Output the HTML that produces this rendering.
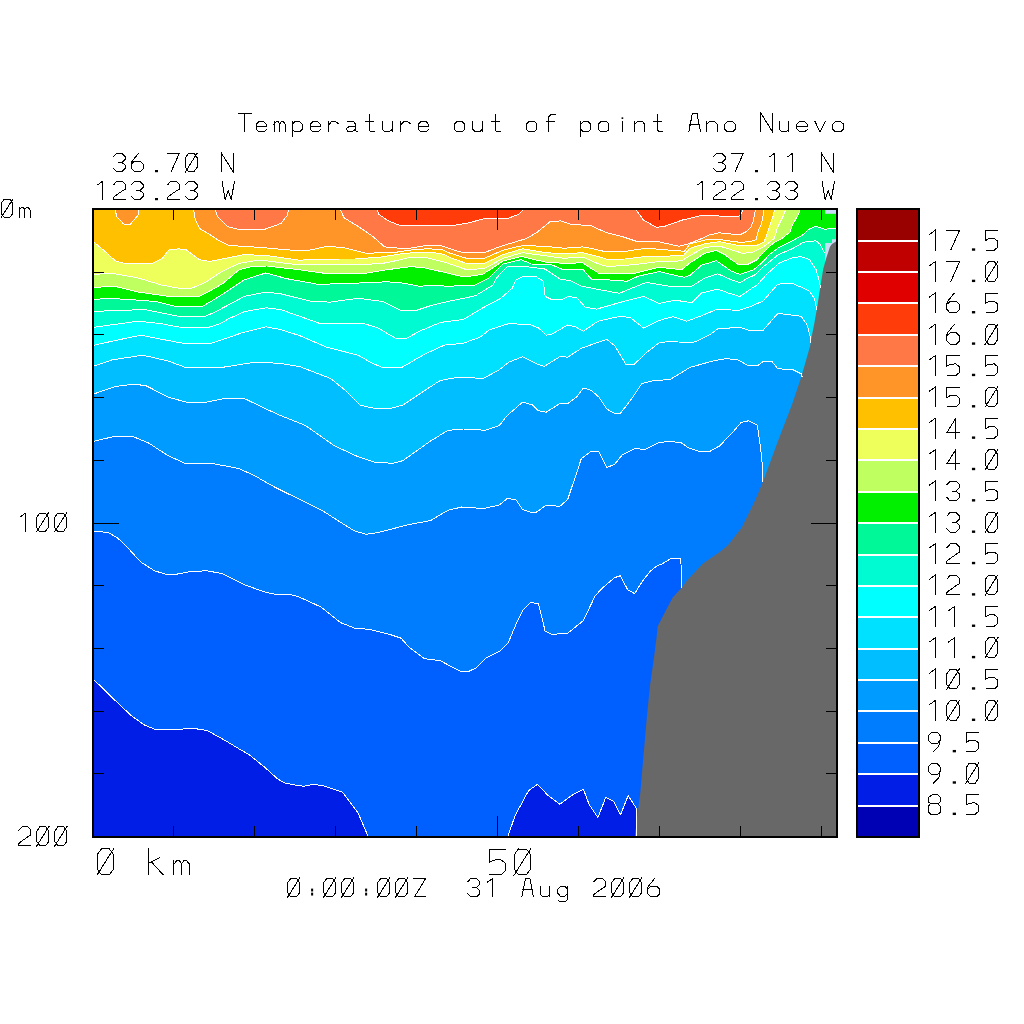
<!DOCTYPE html>
<html><head><meta charset="utf-8"><title>Temperature out of point Ano Nuevo</title>
<style>html,body{margin:0;padding:0;background:#fff;overflow:hidden;font-family:"Liberation Sans",sans-serif;}svg{display:block;}</style>
</head><body>
<svg width="1024" height="1024" viewBox="0 0 1024 1024">
<rect width="1024" height="1024" fill="#fff"/>
<rect x="93" y="209" width="743" height="627" fill="#001EE6"/>
<polygon points="93.0,209.0 836.0,209.0 836.0,836.0 636.0,836.0 637.0,816.0 636.0,807.8 628.2,795.5 620.4,815.0 613.6,801.4 605.7,797.5 597.9,817.6 589.1,804.3 583.3,789.1 571.6,795.5 559.8,804.3 548.1,795.5 537.4,784.4 528.6,790.6 514.9,816.0 508.1,836.0 367.9,836.0 358.1,813.1 342.5,792.2 323.0,785.7 313.2,784.4 303.4,786.3 291.7,784.4 285.3,783.2 277.5,778.9 265.8,768.2 250.2,755.5 226.7,741.4 207.2,730.5 191.6,728.1 181.8,729.1 154.5,729.1 144.7,725.2 131.0,715.4 113.4,698.8 101.7,687.1 93.0,679.3" fill="#0060FF"/>
<polygon points="93.0,209.0 836.0,209.0 836.0,587.9 681.5,587.9 681.0,564.0 680.5,558.6 670.8,558.6 662.0,563.9 656.1,566.4 650.3,571.3 642.5,581.0 637.6,588.8 634.6,593.7 627.8,589.8 622.9,581.0 620.4,575.7 614.5,577.7 600.9,589.4 595.0,596.2 583.3,620.6 567.7,633.3 552.0,634.3 545.2,631.4 538.4,603.4 530.5,602.7 522.7,610.5 515.9,624.5 508.1,643.1 499.3,651.5 485.6,658.1 476.8,667.5 469.5,671.0 459.7,671.0 440.2,660.7 424.5,658.7 408.9,647.0 401.1,638.2 389.4,634.3 369.8,629.4 354.2,628.0 340.5,622.6 321.0,607.0 299.5,597.2 290.0,594.3 275.5,594.3 265.8,592.3 246.3,585.5 222.8,573.8 207.2,570.8 191.6,571.4 175.9,574.3 166.2,574.3 154.5,570.8 140.8,562.0 129.1,549.3 117.3,537.6 107.6,532.3 93.0,531.4" fill="#007DFF"/>
<polygon points="93.0,209.0 836.0,209.0 836.0,481.8 763.0,481.8 761.8,457.4 757.4,425.2 748.6,420.8 741.3,422.3 733.8,431.0 726.6,438.4 720.1,445.6 710.3,451.1 698.6,451.1 688.8,448.0 681.0,442.7 669.3,441.3 658.6,442.7 643.8,449.9 636.0,447.9 622.3,454.8 614.5,464.5 606.7,467.5 598.9,451.8 591.1,451.3 581.3,458.7 575.5,476.3 571.6,487.8 567.7,499.5 559.8,506.4 546.2,505.0 536.4,512.2 530.5,512.2 522.7,509.7 515.9,499.5 507.1,498.6 499.3,505.0 484.6,508.3 480.0,508.3 461.6,507.0 448.0,510.3 430.4,520.6 408.9,524.5 377.7,532.7 365.9,534.3 354.2,530.8 338.6,521.0 323.0,511.0 305.4,502.0 290.0,494.7 275.5,487.5 261.9,480.0 256.0,476.3 238.4,468.4 213.0,463.6 185.7,463.6 168.1,455.7 148.6,443.0 133.0,436.6 113.4,436.6 93.0,441.5" fill="#009BFF"/>
<polygon points="93.0,209.0 836.0,209.0 836.0,376.9 802.1,376.9 801.3,373.9 792.5,369.5 777.9,368.8 772.0,361.5 763.2,361.5 757.4,365.9 748.6,365.9 738.3,360.0 726.6,358.6 713.4,360.8 690.0,367.4 670.0,379.6 653.6,380.5 641.9,383.5 632.1,398.1 620.4,413.4 614.5,413.4 606.7,408.9 598.9,397.1 591.1,390.3 583.3,388.0 577.4,396.2 567.7,403.6 559.8,403.6 546.2,412.2 538.4,410.8 532.5,405.0 522.7,402.0 507.1,415.7 499.3,425.5 485.6,430.3 463.6,429.0 448.0,430.3 430.4,441.1 403.0,460.6 393.3,463.2 375.7,462.6 358.1,456.7 334.7,446.0 305.4,425.5 280.0,415.3 265.8,408.9 244.3,398.5 226.7,398.1 207.2,402.0 185.7,402.0 168.1,397.1 146.6,386.0 134.9,384.1 115.4,386.4 93.0,394.2" fill="#00BEFF"/>
<polygon points="93.0,209.0 836.0,209.0 836.0,343.0 810.5,343.0 810.1,336.8 807.2,325.1 801.3,316.3 777.9,313.4 763.2,330.2 748.6,330.2 739.8,327.3 717.8,328.8 710.5,334.4 695.9,341.7 690.0,342.7 670.0,341.5 659.5,342.5 645.8,353.2 634.1,364.5 626.3,364.9 614.5,345.4 606.7,339.5 595.0,343.4 581.3,348.3 567.7,357.1 559.8,356.7 544.2,366.5 536.4,363.9 522.7,356.7 509.1,362.0 499.3,369.8 483.7,378.2 455.8,377.6 440.2,380.5 420.6,393.2 403.0,405.0 391.3,408.3 373.8,408.3 360.1,405.0 346.4,391.3 330.8,378.6 299.5,366.5 280.0,363.4 256.0,362.0 218.9,367.9 185.7,367.5 168.1,361.0 142.7,355.2 111.5,360.0 93.0,366.5" fill="#00E0FF"/>
<polygon points="93.0,209.0 836.0,209.0 836.0,310.0 817.0,310.0 814.4,298.6 809.5,291.3 802.7,287.9 792.5,283.4 777.9,284.1 763.2,300.9 751.5,306.1 738.3,310.5 717.8,309.0 701.7,315.6 686.8,321.2 672.8,316.7 658.9,320.5 643.6,328.1 630.9,318.0 620.8,316.1 597.9,321.2 583.3,331.3 575.5,326.8 567.7,324.9 552.0,334.1 546.2,335.2 538.4,327.8 530.5,324.9 509.1,323.5 489.5,329.8 480.0,337.2 461.6,343.8 446.0,344.4 424.5,354.2 401.1,367.9 383.5,367.9 371.8,363.0 358.1,355.2 326.9,347.3 299.5,335.6 280.0,329.4 265.8,326.8 242.3,332.7 211.1,343.4 183.8,343.4 168.1,340.5 140.8,335.2 115.4,340.5 93.0,345.4" fill="#00FFFF"/>
<polygon points="93.0,209.0 836.0,209.0 836.0,288.0 820.5,288.0 819.3,281.0 816.0,269.5 809.5,259.5 801.5,256.7 793.3,257.4 779.6,262.8 767.3,273.8 757.1,285.0 751.5,288.5 739.8,296.5 728.1,292.9 717.8,289.2 701.7,292.9 691.9,302.8 675.4,300.2 658.9,303.4 643.6,296.4 623.3,301.5 596.7,309.1 585.2,307.2 577.0,297.7 568.0,296.4 561.7,299.6 551.6,299.6 545.2,296.4 543.3,281.2 536.3,276.7 522.4,276.7 516.0,279.9 512.2,288.2 500.8,298.3 481.7,308.5 462.7,319.9 460.0,319.9 440.5,322.4 420.6,330.7 407.0,338.0 395.2,338.0 377.7,327.8 364.3,323.7 330.0,323.1 320.4,323.7 281.1,309.7 265.9,307.8 244.3,311.6 229.0,318.6 220.0,323.7 208.0,327.5 181.4,327.5 161.1,323.7 138.2,321.2 115.4,324.3 93.0,327.5" fill="#00FAD2"/>
<polygon points="93.0,209.0 836.0,209.0 836.0,253.3 824.8,253.3 820.4,244.5 816.0,240.9 810.0,241.2 803.6,242.3 791.3,249.2 778.3,254.6 763.9,266.3 755.7,274.5 746.8,278.6 740.0,282.7 731.0,279.7 717.8,273.8 704.6,278.2 691.9,286.2 669.0,286.2 646.2,282.4 619.5,293.2 608.1,291.3 581.4,286.2 570.0,280.5 560.4,279.3 545.2,269.1 526.2,266.6 507.1,266.6 497.0,277.4 493.2,285.0 475.4,295.8 450.0,301.0 431.6,305.3 416.3,310.4 401.1,310.4 383.3,301.5 357.9,298.3 330.0,302.1 311.6,301.5 281.1,293.9 265.9,292.0 244.3,296.4 227.8,305.3 213.0,313.0 205.5,316.1 177.6,316.1 161.1,312.9 145.9,309.7 115.4,310.4 93.0,311.6" fill="#00F898"/>
<polygon points="93.0,209.0 836.0,209.0 836.0,228.4 824.8,229.2 816.0,226.2 809.5,228.9 802.9,234.8 791.9,241.0 778.3,247.8 770.1,254.0 761.9,262.8 753.7,269.7 740.0,274.5 731.0,270.9 716.4,260.7 701.7,265.1 690.0,275.3 684.3,277.4 658.9,271.6 638.6,276.1 627.1,281.2 608.1,279.9 591.6,279.3 582.7,269.1 561.7,269.1 551.6,264.7 531.2,264.0 521.1,259.6 503.3,264.0 488.1,278.6 475.4,285.0 450.0,286.2 431.6,285.6 418.9,286.2 403.6,283.1 387.1,281.8 342.7,283.7 317.9,284.3 286.2,278.6 265.9,272.9 244.3,279.9 225.2,292.6 210.0,302.1 201.7,306.6 176.3,306.6 156.0,301.5 130.6,299.6 107.8,298.3 93.0,299.6" fill="#00F000"/>
<polygon points="93.0,209.0 800.6,209.0 798.1,215.0 792.6,224.6 789.9,232.1 782.4,238.2 774.2,242.3 763.9,251.9 756.4,260.1 746.8,264.9 739.1,265.0 731.3,259.7 725.2,254.8 716.4,250.4 704.6,253.3 690.0,262.9 681.7,269.7 658.9,267.2 633.5,273.6 599.2,273.6 582.7,262.8 564.3,263.4 545.2,262.1 521.1,256.4 503.3,260.9 483.0,274.2 466.5,276.7 460.0,276.1 444.3,272.3 423.9,267.8 411.2,266.6 387.1,269.7 363.0,273.6 326.8,273.6 298.9,269.7 266.5,266.0 251.9,266.6 239.2,269.7 222.7,283.7 206.8,292.6 197.9,297.0 168.7,296.4 138.2,292.0 114.1,286.2 93.0,287.5" fill="#C0FF60"/>
<polygon points="93.0,209.0 786.0,209.0 783.7,215.0 777.6,227.3 774.2,238.6 763.9,246.4 751.6,252.6 742.0,253.3 738.3,251.9 719.3,246.0 704.6,247.5 690.0,255.5 681.7,260.9 658.9,261.5 633.5,264.7 608.1,266.6 600.5,264.7 582.7,257.0 564.3,258.3 545.2,255.8 522.4,252.6 503.3,258.3 484.3,268.5 466.5,269.7 444.3,262.1 423.9,257.0 411.2,257.0 387.1,262.8 363.0,264.7 340.0,264.7 298.9,264.7 286.2,263.4 267.1,260.9 253.2,260.9 239.2,263.4 222.7,271.0 205.5,282.4 191.6,288.2 178.9,288.2 161.1,285.0 138.2,278.0 114.1,273.6 93.0,274.2" fill="#EEFF5C"/>
<polygon points="93.0,209.0 774.5,209.0 773.5,215.0 771.4,221.2 767.3,233.5 763.9,242.3 755.7,245.8 738.3,245.5 719.3,241.6 704.6,243.8 690.0,248.2 683.0,255.8 646.2,256.4 624.6,259.0 608.1,259.6 595.4,255.8 582.7,252.6 564.3,253.9 545.2,252.6 522.4,248.8 503.3,254.5 484.3,263.4 466.5,263.4 450.0,257.7 444.3,254.5 431.6,252.2 417.6,252.2 401.1,253.9 380.8,257.0 355.4,259.0 340.0,259.0 311.6,259.6 298.9,260.2 268.4,255.8 244.3,254.5 225.2,258.3 209.3,261.5 199.2,259.6 186.5,250.0 178.9,248.8 168.7,250.0 162.4,258.3 152.2,263.4 124.3,263.4 115.4,260.9 106.5,252.6 93.0,241.2" fill="#FFC000"/>
<polygon points="193.5,209.0 195.4,220.2 200.4,229.1 209.3,234.2 217.0,239.3 229.0,245.6 244.3,246.3 260.8,247.5 290.0,250.0 310.3,250.0 326.8,246.3 342.7,247.5 365.5,253.2 393.5,252.6 411.2,250.0 426.5,248.8 441.7,249.4 450.0,253.2 466.5,258.3 484.3,258.3 503.3,250.1 522.4,245.6 545.2,246.3 564.3,248.2 582.7,246.9 590.3,248.2 606.8,252.0 625.9,251.3 646.2,248.2 684.3,251.3 690.0,243.8 707.6,239.4 719.3,239.4 734.0,241.6 740.0,242.3 750.3,241.7 756.4,239.3 758.1,231.4 761.2,224.6 763.2,215.0 764.2,209.0" fill="#FF9428"/>
<polygon points="115.0,209.0 116.7,216.4 123.6,224.0 130.6,224.0 138.2,215.0 138.9,209.0" fill="#FF9428"/>
<polygon points="215.1,209.0 217.6,216.4 227.8,226.6 237.3,229.1 265.2,229.1 281.1,223.4 287.4,215.2 288.7,209.0" fill="#FF7846"/>
<polygon points="340.2,209.0 344.0,217.7 360.5,227.9 373.2,236.7 384.6,246.9 406.2,248.8 425.2,245.6 440.5,245.6 451.9,249.4 462.7,252.6 484.3,252.6 500.8,246.3 526.2,238.6 536.3,232.9 550.3,221.5 560.4,220.9 571.9,224.7 590.3,225.3 605.5,232.3 620.8,236.1 636.0,241.2 658.9,241.8 679.2,246.3 686.8,244.4 700.0,239.3 709.0,235.0 719.3,232.8 734.0,234.3 740.0,234.8 746.8,231.4 750.9,227.3 753.0,221.8 754.4,215.0 755.5,209.0" fill="#FF7846"/>
<polygon points="377.6,209.0 378.2,213.9 388.4,220.9 401.1,225.9 441.7,225.9 450.0,226.0 469.0,222.8 485.5,218.3 505.9,219.0 518.6,214.5 523.6,209.0" fill="#FF3C0A"/>
<polygon points="635.4,209.0 643.6,220.2 656.3,227.2 663.9,226.6 681.7,220.2 700.0,215.8 704.6,215.5 738.3,216.7 741.3,213.8 743.5,209.0" fill="#FF3C0A"/>
<polygon points="825.2,243.1 832.0,243.1 832.0,239.2 836.0,239.2 836.0,262.0 825.2,262.0" fill="#C8DCF8"/>
<rect x="825.2" y="209" width="10.8" height="4.8" fill="#C8DCF8"/>
<polygon points="836.0,241.5 832.0,243.9 830.0,246.8 826.1,258.6 823.2,269.3 820.3,286.9 817.3,306.4 814.4,323.0 811.0,340.0 810.1,346.1 801.3,376.9 792.5,403.2 777.9,441.3 763.0,481.8 755.2,500.3 741.6,527.7 727.9,545.2 720.0,551.7 703.0,563.4 687.4,580.0 681.5,587.9 672.7,597.6 663.9,614.2 657.6,626.5 656.6,637.2 653.3,663.0 650.1,684.5 646.9,716.8 643.7,753.3 640.4,792.0 637.4,815.7 635.0,836.0 836.0,836.0" fill="#686868"/>
<g fill="none" stroke="#fff" stroke-width="1" stroke-linejoin="round" shape-rendering="crispEdges"><polyline points="93.0,679.3 101.7,687.1 113.4,698.8 131.0,715.4 144.7,725.2 154.5,729.1 181.8,729.1 191.6,728.1 207.2,730.5 226.7,741.4 250.2,755.5 265.8,768.2 277.5,778.9 285.3,783.2 291.7,784.4 303.4,786.3 313.2,784.4 323.0,785.7 342.5,792.2 358.1,813.1 367.9,836.0"/><polyline points="508.1,836.0 514.9,816.0 528.6,790.6 537.4,784.4 548.1,795.5 559.8,804.3 571.6,795.5 583.3,789.1 589.1,804.3 597.9,817.6 605.7,797.5 613.6,801.4 620.4,815.0 628.2,795.5 636.0,807.8 637.0,816.0 636.0,836.0"/><polyline points="93.0,531.4 107.6,532.3 117.3,537.6 129.1,549.3 140.8,562.0 154.5,570.8 166.2,574.3 175.9,574.3 191.6,571.4 207.2,570.8 222.8,573.8 246.3,585.5 265.8,592.3 275.5,594.3 290.0,594.3 299.5,597.2 321.0,607.0 340.5,622.6 354.2,628.0 369.8,629.4 389.4,634.3 401.1,638.2 408.9,647.0 424.5,658.7 440.2,660.7 459.7,671.0 469.5,671.0 476.8,667.5 485.6,658.1 499.3,651.5 508.1,643.1 515.9,624.5 522.7,610.5 530.5,602.7 538.4,603.4 545.2,631.4 552.0,634.3 567.7,633.3 583.3,620.6 595.0,596.2 600.9,589.4 614.5,577.7 620.4,575.7 622.9,581.0 627.8,589.8 634.6,593.7 637.6,588.8 642.5,581.0 650.3,571.3 656.1,566.4 662.0,563.9 670.8,558.6 680.5,558.6 681.0,564.0 681.5,587.9"/><polyline points="93.0,441.5 113.4,436.6 133.0,436.6 148.6,443.0 168.1,455.7 185.7,463.6 213.0,463.6 238.4,468.4 256.0,476.3 261.9,480.0 275.5,487.5 290.0,494.7 305.4,502.0 323.0,511.0 338.6,521.0 354.2,530.8 365.9,534.3 377.7,532.7 408.9,524.5 430.4,520.6 448.0,510.3 461.6,507.0 480.0,508.3 484.6,508.3 499.3,505.0 507.1,498.6 515.9,499.5 522.7,509.7 530.5,512.2 536.4,512.2 546.2,505.0 559.8,506.4 567.7,499.5 571.6,487.8 575.5,476.3 581.3,458.7 591.1,451.3 598.9,451.8 606.7,467.5 614.5,464.5 622.3,454.8 636.0,447.9 643.8,449.9 658.6,442.7 669.3,441.3 681.0,442.7 688.8,448.0 698.6,451.1 710.3,451.1 720.1,445.6 726.6,438.4 733.8,431.0 741.3,422.3 748.6,420.8 757.4,425.2 761.8,457.4 763.0,481.8"/><polyline points="93.0,394.2 115.4,386.4 134.9,384.1 146.6,386.0 168.1,397.1 185.7,402.0 207.2,402.0 226.7,398.1 244.3,398.5 265.8,408.9 280.0,415.3 305.4,425.5 334.7,446.0 358.1,456.7 375.7,462.6 393.3,463.2 403.0,460.6 430.4,441.1 448.0,430.3 463.6,429.0 485.6,430.3 499.3,425.5 507.1,415.7 522.7,402.0 532.5,405.0 538.4,410.8 546.2,412.2 559.8,403.6 567.7,403.6 577.4,396.2 583.3,388.0 591.1,390.3 598.9,397.1 606.7,408.9 614.5,413.4 620.4,413.4 632.1,398.1 641.9,383.5 653.6,380.5 670.0,379.6 690.0,367.4 713.4,360.8 726.6,358.6 738.3,360.0 748.6,365.9 757.4,365.9 763.2,361.5 772.0,361.5 777.9,368.8 792.5,369.5 801.3,373.9 802.1,376.9"/><polyline points="93.0,366.5 111.5,360.0 142.7,355.2 168.1,361.0 185.7,367.5 218.9,367.9 256.0,362.0 280.0,363.4 299.5,366.5 330.8,378.6 346.4,391.3 360.1,405.0 373.8,408.3 391.3,408.3 403.0,405.0 420.6,393.2 440.2,380.5 455.8,377.6 483.7,378.2 499.3,369.8 509.1,362.0 522.7,356.7 536.4,363.9 544.2,366.5 559.8,356.7 567.7,357.1 581.3,348.3 595.0,343.4 606.7,339.5 614.5,345.4 626.3,364.9 634.1,364.5 645.8,353.2 659.5,342.5 670.0,341.5 690.0,342.7 695.9,341.7 710.5,334.4 717.8,328.8 739.8,327.3 748.6,330.2 763.2,330.2 777.9,313.4 801.3,316.3 807.2,325.1 810.1,336.8 810.5,343.0"/><polyline points="93.0,345.4 115.4,340.5 140.8,335.2 168.1,340.5 183.8,343.4 211.1,343.4 242.3,332.7 265.8,326.8 280.0,329.4 299.5,335.6 326.9,347.3 358.1,355.2 371.8,363.0 383.5,367.9 401.1,367.9 424.5,354.2 446.0,344.4 461.6,343.8 480.0,337.2 489.5,329.8 509.1,323.5 530.5,324.9 538.4,327.8 546.2,335.2 552.0,334.1 567.7,324.9 575.5,326.8 583.3,331.3 597.9,321.2 620.8,316.1 630.9,318.0 643.6,328.1 658.9,320.5 672.8,316.7 686.8,321.2 701.7,315.6 717.8,309.0 738.3,310.5 751.5,306.1 763.2,300.9 777.9,284.1 792.5,283.4 802.7,287.9 809.5,291.3 814.4,298.6 817.0,310.0"/><polyline points="93.0,327.5 115.4,324.3 138.2,321.2 161.1,323.7 181.4,327.5 208.0,327.5 220.0,323.7 229.0,318.6 244.3,311.6 265.9,307.8 281.1,309.7 320.4,323.7 330.0,323.1 364.3,323.7 377.7,327.8 395.2,338.0 407.0,338.0 420.6,330.7 440.5,322.4 460.0,319.9 462.7,319.9 481.7,308.5 500.8,298.3 512.2,288.2 516.0,279.9 522.4,276.7 536.3,276.7 543.3,281.2 545.2,296.4 551.6,299.6 561.7,299.6 568.0,296.4 577.0,297.7 585.2,307.2 596.7,309.1 623.3,301.5 643.6,296.4 658.9,303.4 675.4,300.2 691.9,302.8 701.7,292.9 717.8,289.2 728.1,292.9 739.8,296.5 751.5,288.5 757.1,285.0 767.3,273.8 779.6,262.8 793.3,257.4 801.5,256.7 809.5,259.5 816.0,269.5 819.3,281.0 820.5,288.0"/><polyline points="93.0,311.6 115.4,310.4 145.9,309.7 161.1,312.9 177.6,316.1 205.5,316.1 213.0,313.0 227.8,305.3 244.3,296.4 265.9,292.0 281.1,293.9 311.6,301.5 330.0,302.1 357.9,298.3 383.3,301.5 401.1,310.4 416.3,310.4 431.6,305.3 450.0,301.0 475.4,295.8 493.2,285.0 497.0,277.4 507.1,266.6 526.2,266.6 545.2,269.1 560.4,279.3 570.0,280.5 581.4,286.2 608.1,291.3 619.5,293.2 646.2,282.4 669.0,286.2 691.9,286.2 704.6,278.2 717.8,273.8 731.0,279.7 740.0,282.7 746.8,278.6 755.7,274.5 763.9,266.3 778.3,254.6 791.3,249.2 803.6,242.3 810.0,241.2 816.0,240.9 820.4,244.5 824.8,253.3"/><polyline points="93.0,299.6 107.8,298.3 130.6,299.6 156.0,301.5 176.3,306.6 201.7,306.6 210.0,302.1 225.2,292.6 244.3,279.9 265.9,272.9 286.2,278.6 317.9,284.3 342.7,283.7 387.1,281.8 403.6,283.1 418.9,286.2 431.6,285.6 450.0,286.2 475.4,285.0 488.1,278.6 503.3,264.0 521.1,259.6 531.2,264.0 551.6,264.7 561.7,269.1 582.7,269.1 591.6,279.3 608.1,279.9 627.1,281.2 638.6,276.1 658.9,271.6 684.3,277.4 690.0,275.3 701.7,265.1 716.4,260.7 731.0,270.9 740.0,274.5 753.7,269.7 761.9,262.8 770.1,254.0 778.3,247.8 791.9,241.0 802.9,234.8 809.5,228.9 816.0,226.2 824.8,229.2 836.0,228.4"/><polyline points="93.0,287.5 114.1,286.2 138.2,292.0 168.7,296.4 197.9,297.0 206.8,292.6 222.7,283.7 239.2,269.7 251.9,266.6 266.5,266.0 298.9,269.7 326.8,273.6 363.0,273.6 387.1,269.7 411.2,266.6 423.9,267.8 444.3,272.3 460.0,276.1 466.5,276.7 483.0,274.2 503.3,260.9 521.1,256.4 545.2,262.1 564.3,263.4 582.7,262.8 599.2,273.6 633.5,273.6 658.9,267.2 681.7,269.7 690.0,262.9 704.6,253.3 716.4,250.4 725.2,254.8 731.3,259.7 739.1,265.0 746.8,264.9 756.4,260.1 763.9,251.9 774.2,242.3 782.4,238.2 789.9,232.1 792.6,224.6 798.1,215.0 800.6,209.0"/><polyline points="93.0,274.2 114.1,273.6 138.2,278.0 161.1,285.0 178.9,288.2 191.6,288.2 205.5,282.4 222.7,271.0 239.2,263.4 253.2,260.9 267.1,260.9 286.2,263.4 298.9,264.7 340.0,264.7 363.0,264.7 387.1,262.8 411.2,257.0 423.9,257.0 444.3,262.1 466.5,269.7 484.3,268.5 503.3,258.3 522.4,252.6 545.2,255.8 564.3,258.3 582.7,257.0 600.5,264.7 608.1,266.6 633.5,264.7 658.9,261.5 681.7,260.9 690.0,255.5 704.6,247.5 719.3,246.0 738.3,251.9 742.0,253.3 751.6,252.6 763.9,246.4 774.2,238.6 777.6,227.3 783.7,215.0 786.0,209.0"/><polyline points="93.0,241.2 106.5,252.6 115.4,260.9 124.3,263.4 152.2,263.4 162.4,258.3 168.7,250.0 178.9,248.8 186.5,250.0 199.2,259.6 209.3,261.5 225.2,258.3 244.3,254.5 268.4,255.8 298.9,260.2 311.6,259.6 340.0,259.0 355.4,259.0 380.8,257.0 401.1,253.9 417.6,252.2 431.6,252.2 444.3,254.5 450.0,257.7 466.5,263.4 484.3,263.4 503.3,254.5 522.4,248.8 545.2,252.6 564.3,253.9 582.7,252.6 595.4,255.8 608.1,259.6 624.6,259.0 646.2,256.4 683.0,255.8 690.0,248.2 704.6,243.8 719.3,241.6 738.3,245.5 755.7,245.8 763.9,242.3 767.3,233.5 771.4,221.2 773.5,215.0 774.5,209.0"/><polyline points="193.5,209.0 195.4,220.2 200.4,229.1 209.3,234.2 217.0,239.3 229.0,245.6 244.3,246.3 260.8,247.5 290.0,250.0 310.3,250.0 326.8,246.3 342.7,247.5 365.5,253.2 393.5,252.6 411.2,250.0 426.5,248.8 441.7,249.4 450.0,253.2 466.5,258.3 484.3,258.3 503.3,250.1 522.4,245.6 545.2,246.3 564.3,248.2 582.7,246.9 590.3,248.2 606.8,252.0 625.9,251.3 646.2,248.2 684.3,251.3 690.0,243.8 707.6,239.4 719.3,239.4 734.0,241.6 740.0,242.3 750.3,241.7 756.4,239.3 758.1,231.4 761.2,224.6 763.2,215.0 764.2,209.0"/><polyline points="115.0,209.0 116.7,216.4 123.6,224.0 130.6,224.0 138.2,215.0 138.9,209.0"/><polyline points="215.1,209.0 217.6,216.4 227.8,226.6 237.3,229.1 265.2,229.1 281.1,223.4 287.4,215.2 288.7,209.0"/><polyline points="340.2,209.0 344.0,217.7 360.5,227.9 373.2,236.7 384.6,246.9 406.2,248.8 425.2,245.6 440.5,245.6 451.9,249.4 462.7,252.6 484.3,252.6 500.8,246.3 526.2,238.6 536.3,232.9 550.3,221.5 560.4,220.9 571.9,224.7 590.3,225.3 605.5,232.3 620.8,236.1 636.0,241.2 658.9,241.8 679.2,246.3 686.8,244.4 700.0,239.3 709.0,235.0 719.3,232.8 734.0,234.3 740.0,234.8 746.8,231.4 750.9,227.3 753.0,221.8 754.4,215.0 755.5,209.0"/><polyline points="377.6,209.0 378.2,213.9 388.4,220.9 401.1,225.9 441.7,225.9 450.0,226.0 469.0,222.8 485.5,218.3 505.9,219.0 518.6,214.5 523.6,209.0"/><polyline points="635.4,209.0 643.6,220.2 656.3,227.2 663.9,226.6 681.7,220.2 700.0,215.8 704.6,215.5 738.3,216.7 741.3,213.8 743.5,209.0"/></g>
<path d="M173.5 210 V220.0 M173.5 836 V826.0 M254.5 210 V220.0 M254.5 836 V826.0 M335.5 210 V220.0 M335.5 836 V826.0 M416.5 210 V220.0 M416.5 836 V826.0 M497.5 210 V230.0 M497.5 836 V816.0 M578.5 210 V220.0 M578.5 836 V826.0 M659.5 210 V220.0 M659.5 836 V826.0 M740.5 210 V220.0 M740.5 836 V826.0 M821.5 210 V220.0 M821.5 836 V826.0 M94 272.5 H104.0 M836 272.5 H826.0 M94 334.5 H104.0 M836 334.5 H826.0 M94 397.5 H104.0 M836 397.5 H826.0 M94 460.5 H104.0 M836 460.5 H826.0 M94 523.5 H119.0 M836 523.5 H811.0 M94 585.5 H104.0 M836 585.5 H826.0 M94 648.5 H104.0 M836 648.5 H826.0 M94 711.5 H104.0 M836 711.5 H826.0 M94 773.5 H104.0 M836 773.5 H826.0" stroke="#000" stroke-width="1" fill="none"/>
<rect x="93" y="209" width="744" height="628" fill="none" stroke="#000" stroke-width="2"/>
<rect x="857" y="804.65" width="62" height="31.85" fill="#0000B4"/>
<rect x="857" y="773.30" width="62" height="31.85" fill="#001EE6"/>
<rect x="857" y="741.95" width="62" height="31.85" fill="#0060FF"/>
<rect x="857" y="710.60" width="62" height="31.85" fill="#007DFF"/>
<rect x="857" y="679.25" width="62" height="31.85" fill="#009BFF"/>
<rect x="857" y="647.90" width="62" height="31.85" fill="#00BEFF"/>
<rect x="857" y="616.55" width="62" height="31.85" fill="#00E0FF"/>
<rect x="857" y="585.20" width="62" height="31.85" fill="#00FFFF"/>
<rect x="857" y="553.85" width="62" height="31.85" fill="#00FAD2"/>
<rect x="857" y="522.50" width="62" height="31.85" fill="#00F898"/>
<rect x="857" y="491.15" width="62" height="31.85" fill="#00F000"/>
<rect x="857" y="459.80" width="62" height="31.85" fill="#C0FF60"/>
<rect x="857" y="428.45" width="62" height="31.85" fill="#EEFF5C"/>
<rect x="857" y="397.10" width="62" height="31.85" fill="#FFC000"/>
<rect x="857" y="365.75" width="62" height="31.85" fill="#FF9428"/>
<rect x="857" y="334.40" width="62" height="31.85" fill="#FF7846"/>
<rect x="857" y="303.05" width="62" height="31.85" fill="#FF3C0A"/>
<rect x="857" y="271.70" width="62" height="31.85" fill="#E00000"/>
<rect x="857" y="240.35" width="62" height="31.85" fill="#C00000"/>
<rect x="857" y="209.00" width="62" height="31.85" fill="#990000"/>
<rect x="858" y="240" width="60" height="2" fill="#fff"/>
<rect x="858" y="271" width="60" height="2" fill="#fff"/>
<rect x="858" y="302" width="60" height="2" fill="#fff"/>
<rect x="858" y="334" width="60" height="2" fill="#fff"/>
<rect x="858" y="365" width="60" height="2" fill="#fff"/>
<rect x="858" y="397" width="60" height="2" fill="#fff"/>
<rect x="858" y="428" width="60" height="2" fill="#fff"/>
<rect x="858" y="459" width="60" height="2" fill="#fff"/>
<rect x="858" y="491" width="60" height="2" fill="#fff"/>
<rect x="858" y="522" width="60" height="2" fill="#fff"/>
<rect x="858" y="554" width="60" height="2" fill="#fff"/>
<rect x="858" y="585" width="60" height="2" fill="#fff"/>
<rect x="858" y="616" width="60" height="2" fill="#fff"/>
<rect x="858" y="648" width="60" height="2" fill="#fff"/>
<rect x="858" y="679" width="60" height="2" fill="#fff"/>
<rect x="858" y="710" width="60" height="2" fill="#fff"/>
<rect x="858" y="742" width="60" height="2" fill="#fff"/>
<rect x="858" y="773" width="60" height="2" fill="#fff"/>
<rect x="858" y="805" width="60" height="2" fill="#fff"/>
<rect x="857" y="209" width="62" height="628" fill="none" stroke="#000" stroke-width="2"/>
<g fill="#000" stroke="none"><rect x="621.57" y="117.32" width="1.65" height="1.65"/><rect x="155.00" y="170.00" width="3.00" height="2.20"/><rect x="155.00" y="198.00" width="3.00" height="2.20"/><rect x="755.00" y="170.00" width="3.00" height="2.20"/><rect x="755.00" y="198.00" width="3.00" height="2.20"/><rect x="311.10" y="888.60" width="2.04" height="2.86"/><rect x="311.10" y="892.68" width="2.04" height="2.86"/><rect x="365.10" y="888.60" width="2.04" height="2.86"/><rect x="365.10" y="892.68" width="2.04" height="2.86"/><rect x="952.73" y="812.65" width="3.24" height="2.38"/><rect x="952.73" y="781.30" width="3.24" height="2.38"/><rect x="952.73" y="749.95" width="3.24" height="2.38"/><rect x="971.93" y="718.60" width="3.24" height="2.38"/><rect x="971.93" y="687.25" width="3.24" height="2.38"/><rect x="971.93" y="655.90" width="3.24" height="2.38"/><rect x="971.93" y="624.55" width="3.24" height="2.38"/><rect x="971.93" y="593.20" width="3.24" height="2.38"/><rect x="971.93" y="561.85" width="3.24" height="2.38"/><rect x="971.93" y="530.50" width="3.24" height="2.38"/><rect x="971.93" y="499.15" width="3.24" height="2.38"/><rect x="971.93" y="467.80" width="3.24" height="2.38"/><rect x="971.93" y="436.45" width="3.24" height="2.38"/><rect x="971.93" y="405.10" width="3.24" height="2.38"/><rect x="971.93" y="373.75" width="3.24" height="2.38"/><rect x="971.93" y="342.40" width="3.24" height="2.38"/><rect x="971.93" y="311.05" width="3.24" height="2.38"/><rect x="971.93" y="279.70" width="3.24" height="2.38"/><rect x="971.93" y="248.35" width="3.24" height="2.38"/></g>
<g fill="none" stroke="#000" stroke-width="1" stroke-linecap="square" stroke-linejoin="miter" shape-rendering="crispEdges"><path d="M238.00 113.20 L251.39 113.20"/><path d="M244.59 113.20 L244.59 131.95"/><path d="M256.03 126.69 L266.36 126.69 L266.36 124.36 L263.61 121.44 L258.87 121.44 L256.03 124.36 L256.03 129.03 L258.87 131.95 L263.61 131.95 L266.36 129.71"/><path d="M274.06 121.44 L274.06 131.95"/><path d="M274.06 124.36 L276.43 121.44 L277.97 121.44 L279.78 123.87 L279.78 131.95"/><path d="M279.78 123.87 L281.58 121.44 L283.12 121.44 L285.49 124.36 L285.49 131.95"/><path d="M292.09 121.44 L292.09 136.62"/><path d="M292.09 124.36 L294.93 121.44 L299.67 121.44 L302.42 124.36 L302.42 129.03 L299.67 131.95 L294.93 131.95 L292.09 129.03"/><path d="M310.12 126.69 L320.45 126.69 L320.45 124.36 L317.70 121.44 L312.96 121.44 L310.12 124.36 L310.12 129.03 L312.96 131.95 L317.70 131.95 L320.45 129.71"/><path d="M328.34 121.44 L328.34 131.95"/><path d="M328.34 125.53 L331.28 121.93 L334.78 121.44 L338.19 123.48"/><path d="M347.66 121.63 L353.41 121.44 L355.36 123.97 L355.82 130.58 L357.30 131.95"/><path d="M355.36 126.50 L349.05 126.50 L346.46 128.54 L347.66 131.56 L351.46 131.95 L355.36 129.51"/><path d="M369.51 114.14 L369.51 130.58 L370.80 131.95 L374.51 131.95"/><path d="M365.45 121.93 L373.48 121.93"/><path d="M382.71 121.44 L382.71 129.51 L385.18 131.95 L389.16 131.95 L392.57 129.03"/><path d="M392.28 121.44 L392.28 131.95"/><path d="M400.46 121.44 L400.46 131.95"/><path d="M400.46 125.53 L403.40 121.93 L406.90 121.44 L410.31 123.48"/><path d="M418.30 126.69 L428.63 126.69 L428.63 124.36 L425.88 121.44 L421.14 121.44 L418.30 124.36 L418.30 129.03 L421.14 131.95 L425.88 131.95 L428.63 129.71"/><path d="M457.01 121.44 L462.04 121.44 L464.69 123.97 L464.69 129.42 L462.04 131.95 L457.01 131.95 L454.36 129.42 L454.36 123.97 L457.01 121.44"/><path d="M472.86 121.44 L472.86 129.51 L475.33 131.95 L479.31 131.95 L482.72 129.03"/><path d="M482.43 121.44 L482.43 131.95"/><path d="M495.72 114.14 L495.72 130.58 L497.01 131.95 L500.72 131.95"/><path d="M491.66 121.93 L499.69 121.93"/><path d="M529.13 121.44 L534.16 121.44 L536.81 123.97 L536.81 129.42 L534.16 131.95 L529.13 131.95 L526.48 129.42 L526.48 123.97 L529.13 121.44"/><path d="M548.84 131.95 L548.84 116.67 L551.00 114.24 L555.22 114.24"/><path d="M546.67 121.25 L554.71 121.25"/><path d="M580.57 121.44 L580.57 136.62"/><path d="M580.57 124.36 L583.41 121.44 L588.15 121.44 L590.90 124.36 L590.90 129.03 L588.15 131.95 L583.41 131.95 L580.57 129.03"/><path d="M601.25 121.44 L606.28 121.44 L608.93 123.97 L608.93 129.42 L606.28 131.95 L601.25 131.95 L598.60 129.42 L598.60 123.97 L601.25 121.44"/><path d="M622.29 121.44 L622.29 131.95"/><path d="M634.66 121.44 L634.66 131.95"/><path d="M634.66 124.36 L637.50 121.44 L642.24 121.44 L644.99 124.36 L644.99 131.95"/><path d="M657.99 114.14 L657.99 130.58 L659.28 131.95 L662.99 131.95"/><path d="M653.93 121.93 L661.96 121.93"/><path d="M688.75 131.95 L692.46 113.20 L696.99 113.20 L700.49 131.95"/><path d="M689.78 124.43 L699.46 124.43"/><path d="M706.78 121.44 L706.78 131.95"/><path d="M706.78 124.36 L709.62 121.44 L714.36 121.44 L717.11 124.36 L717.11 131.95"/><path d="M727.46 121.44 L732.49 121.44 L735.14 123.97 L735.14 129.42 L732.49 131.95 L727.46 131.95 L724.81 129.42 L724.81 123.97 L727.46 121.44"/><path d="M760.87 131.95 L760.87 113.20 L772.61 131.95 L772.61 113.20"/><path d="M779.37 121.44 L779.37 129.51 L781.84 131.95 L785.82 131.95 L789.23 129.03"/><path d="M788.94 121.44 L788.94 131.95"/><path d="M796.93 126.69 L807.26 126.69 L807.26 124.36 L804.51 121.44 L799.77 121.44 L796.93 124.36 L796.93 129.03 L799.77 131.95 L804.51 131.95 L807.26 129.71"/><path d="M814.96 121.44 L820.12 131.95 L825.29 121.44"/><path d="M835.64 121.44 L840.67 121.44 L843.32 123.97 L843.32 129.42 L840.67 131.95 L835.64 131.95 L832.99 129.42 L832.99 123.97 L835.64 121.44"/><path d="M113.60 156.60 L116.50 153.40 L122.10 153.40 L125.00 156.30 L125.00 159.50 L122.10 162.50 L118.60 162.50"/><path d="M122.10 162.50 L125.00 165.10 L125.00 168.60 L122.10 171.60 L116.50 171.60 L113.60 168.40"/><path d="M138.40 153.40 L132.10 161.20 L131.60 162.70 L131.60 168.60 L134.50 171.60 L140.40 171.60 L143.30 168.60 L143.30 164.10 L140.40 161.20 L134.50 161.20 L131.60 163.70"/><path d="M167.60 153.40 L179.30 153.40 L171.20 171.60"/><path d="M188.50 153.40 L194.10 153.40 L197.00 157.40 L197.00 167.60 L194.10 171.60 L188.50 171.60 L185.60 167.60 L185.60 157.40 L188.50 153.40"/><path d="M185.40 171.90 L197.20 153.10"/><path d="M221.60 171.60 L221.60 153.40 L233.00 171.60 L233.00 153.40"/><path d="M97.00 185.20 L102.40 181.40 L102.40 199.60"/><path d="M113.60 184.80 L116.80 181.40 L122.30 181.40 L125.20 184.30 L125.20 189.20 L122.60 190.70 L114.60 196.40 L113.60 197.60 L113.60 199.60 L125.20 199.60"/><path d="M131.60 184.60 L134.50 181.40 L140.10 181.40 L143.00 184.30 L143.00 187.50 L140.10 190.50 L136.60 190.50"/><path d="M140.10 190.50 L143.00 193.10 L143.00 196.60 L140.10 199.60 L134.50 199.60 L131.60 196.40"/><path d="M167.60 184.80 L170.80 181.40 L176.30 181.40 L179.20 184.30 L179.20 189.20 L176.60 190.70 L168.60 196.40 L167.60 197.60 L167.60 199.60 L179.20 199.60"/><path d="M185.60 184.60 L188.50 181.40 L194.10 181.40 L197.00 184.30 L197.00 187.50 L194.10 190.50 L190.60 190.50"/><path d="M194.10 190.50 L197.00 193.10 L197.00 196.60 L194.10 199.60 L188.50 199.60 L185.60 196.40"/><path d="M222.00 181.40 L225.10 199.60 L228.20 190.20 L231.30 199.60 L234.40 181.40"/><path d="M713.60 156.60 L716.50 153.40 L722.10 153.40 L725.00 156.30 L725.00 159.50 L722.10 162.50 L718.60 162.50"/><path d="M722.10 162.50 L725.00 165.10 L725.00 168.60 L722.10 171.60 L716.50 171.60 L713.60 168.40"/><path d="M731.60 153.40 L743.30 153.40 L735.20 171.60"/><path d="M769.00 157.20 L774.40 153.40 L774.40 171.60"/><path d="M787.00 157.20 L792.40 153.40 L792.40 171.60"/><path d="M821.60 171.60 L821.60 153.40 L833.00 171.60 L833.00 153.40"/><path d="M697.00 185.20 L702.40 181.40 L702.40 199.60"/><path d="M713.60 184.80 L716.80 181.40 L722.30 181.40 L725.20 184.30 L725.20 189.20 L722.60 190.70 L714.60 196.40 L713.60 197.60 L713.60 199.60 L725.20 199.60"/><path d="M731.60 184.80 L734.80 181.40 L740.30 181.40 L743.20 184.30 L743.20 189.20 L740.60 190.70 L732.60 196.40 L731.60 197.60 L731.60 199.60 L743.20 199.60"/><path d="M767.60 184.60 L770.50 181.40 L776.10 181.40 L779.00 184.30 L779.00 187.50 L776.10 190.50 L772.60 190.50"/><path d="M776.10 190.50 L779.00 193.10 L779.00 196.60 L776.10 199.60 L770.50 199.60 L767.60 196.40"/><path d="M785.60 184.60 L788.50 181.40 L794.10 181.40 L797.00 184.30 L797.00 187.50 L794.10 190.50 L790.60 190.50"/><path d="M794.10 190.50 L797.00 193.10 L797.00 196.60 L794.10 199.60 L788.50 199.60 L785.60 196.40"/><path d="M822.00 181.40 L825.10 199.60 L828.20 190.20 L831.30 199.60 L834.40 181.40"/><path d="M4.20 199.30 L9.80 199.30 L12.70 203.30 L12.70 213.50 L9.80 217.50 L4.20 217.50 L1.30 213.50 L1.30 203.30 L4.20 199.30"/><path d="M1.10 217.80 L12.90 199.00"/><path d="M19.20 207.30 L19.20 217.50"/><path d="M19.20 210.13 L21.50 207.30 L23.00 207.30 L24.75 209.66 L24.75 217.50"/><path d="M24.75 209.66 L26.50 207.30 L28.00 207.30 L30.30 210.13 L30.30 217.50"/><path d="M20.01 517.04 L25.47 513.20 L25.47 531.58"/><path d="M39.63 513.20 L45.29 513.20 L48.21 517.24 L48.21 527.54 L45.29 531.58 L39.63 531.58 L36.70 527.54 L36.70 517.24 L39.63 513.20"/><path d="M36.50 531.88 L48.42 512.90"/><path d="M57.73 513.20 L63.39 513.20 L66.31 517.24 L66.31 527.54 L63.39 531.58 L57.73 531.58 L54.80 527.54 L54.80 517.24 L57.73 513.20"/><path d="M54.60 531.88 L66.52 512.90"/><path d="M18.90 830.34 L22.23 826.80 L27.95 826.80 L30.96 829.82 L30.96 834.91 L28.26 836.47 L19.94 842.40 L18.90 843.65 L18.90 845.73 L30.96 845.73"/><path d="M39.92 826.80 L45.74 826.80 L48.76 830.96 L48.76 841.57 L45.74 845.73 L39.92 845.73 L36.90 841.57 L36.90 830.96 L39.92 826.80"/><path d="M36.69 846.04 L48.96 826.49"/><path d="M57.92 826.80 L63.74 826.80 L66.76 830.96 L66.76 841.57 L63.74 845.73 L57.92 845.73 L54.90 841.57 L54.90 830.96 L57.92 826.80"/><path d="M54.69 846.04 L66.96 826.49"/><path d="M101.42 848.90 L109.37 848.90 L113.49 854.58 L113.49 869.06 L109.37 874.74 L101.42 874.74 L97.30 869.06 L97.30 854.58 L101.42 848.90"/><path d="M97.02 875.17 L113.77 848.47"/><path d="M148.30 848.90 L148.30 874.74"/><path d="M159.80 857.70 L148.30 863.24"/><path d="M151.42 861.82 L163.07 874.74"/><path d="M173.80 860.26 L173.80 874.74"/><path d="M173.80 864.28 L177.07 860.26 L179.20 860.26 L181.68 863.61 L181.68 874.74"/><path d="M181.68 863.61 L184.17 860.26 L186.30 860.26 L189.56 864.28 L189.56 874.74"/><path d="M505.61 849.00 L489.00 849.00 L489.00 862.49 L493.40 860.08 L500.79 859.65 L505.61 863.48 L505.61 870.73 L500.79 874.84 L489.99 874.84"/><path d="M518.42 849.00 L526.37 849.00 L530.49 854.68 L530.49 869.16 L526.37 874.84 L518.42 874.84 L514.30 869.16 L514.30 854.68 L518.42 849.00"/><path d="M514.02 875.27 L530.77 848.57"/><path d="M290.76 878.40 L296.47 878.40 L299.43 882.48 L299.43 892.88 L296.47 896.96 L290.76 896.96 L287.80 892.88 L287.80 882.48 L290.76 878.40"/><path d="M287.60 897.27 L299.63 878.09"/><path d="M326.76 878.40 L332.47 878.40 L335.43 882.48 L335.43 892.88 L332.47 896.96 L326.76 896.96 L323.80 892.88 L323.80 882.48 L326.76 878.40"/><path d="M323.60 897.27 L335.63 878.09"/><path d="M344.76 878.40 L350.47 878.40 L353.43 882.48 L353.43 892.88 L350.47 896.96 L344.76 896.96 L341.80 892.88 L341.80 882.48 L344.76 878.40"/><path d="M341.60 897.27 L353.63 878.09"/><path d="M380.76 878.40 L386.47 878.40 L389.43 882.48 L389.43 892.88 L386.47 896.96 L380.76 896.96 L377.80 892.88 L377.80 882.48 L380.76 878.40"/><path d="M377.60 897.27 L389.63 878.09"/><path d="M398.76 878.40 L404.47 878.40 L407.43 882.48 L407.43 892.88 L404.47 896.96 L398.76 896.96 L395.80 892.88 L395.80 882.48 L398.76 878.40"/><path d="M395.60 897.27 L407.63 878.09"/><path d="M413.80 878.40 L425.73 878.40 L414.41 896.96 L425.73 896.96"/><path d="M467.80 881.66 L470.76 878.40 L476.47 878.40 L479.43 881.36 L479.43 884.62 L476.47 887.68 L472.90 887.68"/><path d="M476.47 887.68 L479.43 890.33 L479.43 893.90 L476.47 896.96 L470.76 896.96 L467.80 893.70"/><path d="M487.23 882.28 L492.74 878.40 L492.74 896.96"/><path d="M521.80 896.96 L525.47 878.40 L529.96 878.40 L533.43 896.96"/><path d="M522.82 889.52 L532.41 889.52"/><path d="M540.27 886.56 L540.27 894.56 L542.71 896.96 L546.65 896.96 L550.03 894.07"/><path d="M549.75 886.56 L549.75 896.96"/><path d="M567.56 889.06 L565.12 886.56 L560.24 886.56 L557.80 889.06 L557.80 893.11 L560.24 896.10 L565.12 896.10 L567.56 893.59"/><path d="M567.56 886.56 L567.56 899.56 L565.12 901.59 L560.24 901.59 L557.80 900.05"/><path d="M593.80 881.87 L597.06 878.40 L602.67 878.40 L605.63 881.36 L605.63 886.36 L602.98 887.89 L594.82 893.70 L593.80 894.92 L593.80 896.96 L605.63 896.96"/><path d="M614.76 878.40 L620.47 878.40 L623.43 882.48 L623.43 892.88 L620.47 896.96 L614.76 896.96 L611.80 892.88 L611.80 882.48 L614.76 878.40"/><path d="M611.60 897.27 L623.63 878.09"/><path d="M632.76 878.40 L638.47 878.40 L641.43 882.48 L641.43 892.88 L638.47 896.96 L632.76 896.96 L629.80 892.88 L629.80 882.48 L632.76 878.40"/><path d="M629.60 897.27 L641.63 878.09"/><path d="M654.74 878.40 L648.31 886.36 L647.80 887.89 L647.80 893.90 L650.76 896.96 L656.78 896.96 L659.73 893.90 L659.73 889.31 L656.78 886.36 L650.76 886.36 L647.80 888.91"/><path d="M932.13 794.72 L937.85 794.72 L940.66 797.64 L940.66 801.63 L938.28 803.36 L930.29 803.36 L928.13 801.63 L928.13 797.64 L932.13 794.72"/><path d="M930.29 803.79 L938.28 803.79 L940.66 806.93 L940.66 811.79 L937.85 814.38 L930.83 814.38 L928.13 811.79 L928.13 806.93 L930.29 803.79"/><path d="M978.74 794.72 L966.10 794.72 L966.10 804.98 L969.45 803.15 L975.06 802.82 L978.74 805.74 L978.74 811.25 L975.06 814.38 L966.86 814.38"/><path d="M931.80 763.37 L937.20 763.37 L940.12 766.94 L940.12 771.47 L937.64 774.82 L931.80 774.82 L928.13 771.47 L928.13 766.94 L931.80 763.37"/><path d="M940.12 771.47 L938.82 777.74 L933.53 783.03"/><path d="M969.23 763.37 L975.28 763.37 L978.41 767.69 L978.41 778.71 L975.28 783.03 L969.23 783.03 L966.10 778.71 L966.10 767.69 L969.23 763.37"/><path d="M965.88 783.35 L978.63 763.05"/><path d="M931.80 732.02 L937.20 732.02 L940.12 735.59 L940.12 740.12 L937.64 743.47 L931.80 743.47 L928.13 740.12 L928.13 735.59 L931.80 732.02"/><path d="M940.12 740.12 L938.82 746.39 L933.53 751.68"/><path d="M978.74 732.02 L966.10 732.02 L966.10 742.28 L969.45 740.45 L975.06 740.12 L978.74 743.04 L978.74 748.55 L975.06 751.68 L966.86 751.68"/><path d="M929.21 704.78 L935.04 700.67 L935.04 720.33"/><path d="M950.03 700.67 L956.08 700.67 L959.21 704.99 L959.21 716.01 L956.08 720.33 L950.03 720.33 L946.90 716.01 L946.90 704.99 L950.03 700.67"/><path d="M946.68 720.65 L959.43 700.35"/><path d="M988.43 700.67 L994.48 700.67 L997.61 704.99 L997.61 716.01 L994.48 720.33 L988.43 720.33 L985.30 716.01 L985.30 704.99 L988.43 700.67"/><path d="M985.08 720.65 L997.83 700.35"/><path d="M929.21 673.43 L935.04 669.32 L935.04 688.98"/><path d="M950.03 669.32 L956.08 669.32 L959.21 673.64 L959.21 684.66 L956.08 688.98 L950.03 688.98 L946.90 684.66 L946.90 673.64 L950.03 669.32"/><path d="M946.68 689.30 L959.43 669.00"/><path d="M997.94 669.32 L985.30 669.32 L985.30 679.58 L988.65 677.75 L994.26 677.42 L997.94 680.34 L997.94 685.85 L994.26 688.98 L986.06 688.98"/><path d="M929.21 642.08 L935.04 637.97 L935.04 657.63"/><path d="M948.41 642.08 L954.24 637.97 L954.24 657.63"/><path d="M988.43 637.97 L994.48 637.97 L997.61 642.29 L997.61 653.31 L994.48 657.63 L988.43 657.63 L985.30 653.31 L985.30 642.29 L988.43 637.97"/><path d="M985.08 657.95 L997.83 637.65"/><path d="M929.21 610.73 L935.04 606.62 L935.04 626.28"/><path d="M948.41 610.73 L954.24 606.62 L954.24 626.28"/><path d="M997.94 606.62 L985.30 606.62 L985.30 616.88 L988.65 615.05 L994.26 614.72 L997.94 617.64 L997.94 623.15 L994.26 626.28 L986.06 626.28"/><path d="M929.21 579.38 L935.04 575.27 L935.04 594.93"/><path d="M946.90 578.94 L950.36 575.27 L956.30 575.27 L959.43 578.40 L959.43 583.70 L956.62 585.32 L947.98 591.47 L946.90 592.77 L946.90 594.93 L959.43 594.93"/><path d="M988.43 575.27 L994.48 575.27 L997.61 579.59 L997.61 590.61 L994.48 594.93 L988.43 594.93 L985.30 590.61 L985.30 579.59 L988.43 575.27"/><path d="M985.08 595.25 L997.83 574.95"/><path d="M929.21 548.03 L935.04 543.92 L935.04 563.58"/><path d="M946.90 547.59 L950.36 543.92 L956.30 543.92 L959.43 547.05 L959.43 552.35 L956.62 553.97 L947.98 560.12 L946.90 561.42 L946.90 563.58 L959.43 563.58"/><path d="M997.94 543.92 L985.30 543.92 L985.30 554.18 L988.65 552.35 L994.26 552.02 L997.94 554.94 L997.94 560.45 L994.26 563.58 L986.06 563.58"/><path d="M929.21 516.68 L935.04 512.57 L935.04 532.23"/><path d="M946.90 516.03 L950.03 512.57 L956.08 512.57 L959.21 515.70 L959.21 519.16 L956.08 522.40 L952.30 522.40"/><path d="M956.08 522.40 L959.21 525.21 L959.21 528.99 L956.08 532.23 L950.03 532.23 L946.90 528.77"/><path d="M988.43 512.57 L994.48 512.57 L997.61 516.89 L997.61 527.91 L994.48 532.23 L988.43 532.23 L985.30 527.91 L985.30 516.89 L988.43 512.57"/><path d="M985.08 532.55 L997.83 512.25"/><path d="M929.21 485.33 L935.04 481.22 L935.04 500.88"/><path d="M946.90 484.68 L950.03 481.22 L956.08 481.22 L959.21 484.35 L959.21 487.81 L956.08 491.05 L952.30 491.05"/><path d="M956.08 491.05 L959.21 493.86 L959.21 497.64 L956.08 500.88 L950.03 500.88 L946.90 497.42"/><path d="M997.94 481.22 L985.30 481.22 L985.30 491.48 L988.65 489.65 L994.26 489.32 L997.94 492.24 L997.94 497.75 L994.26 500.88 L986.06 500.88"/><path d="M929.21 453.98 L935.04 449.87 L935.04 469.53"/><path d="M955.65 469.53 L955.65 449.87 L946.90 463.80 L959.54 463.80"/><path d="M988.43 449.87 L994.48 449.87 L997.61 454.19 L997.61 465.21 L994.48 469.53 L988.43 469.53 L985.30 465.21 L985.30 454.19 L988.43 449.87"/><path d="M985.08 469.85 L997.83 449.55"/><path d="M929.21 422.63 L935.04 418.52 L935.04 438.18"/><path d="M955.65 438.18 L955.65 418.52 L946.90 432.45 L959.54 432.45"/><path d="M997.94 418.52 L985.30 418.52 L985.30 428.78 L988.65 426.95 L994.26 426.62 L997.94 429.54 L997.94 435.05 L994.26 438.18 L986.06 438.18"/><path d="M929.21 391.28 L935.04 387.17 L935.04 406.83"/><path d="M959.54 387.17 L946.90 387.17 L946.90 397.43 L950.25 395.60 L955.86 395.27 L959.54 398.19 L959.54 403.70 L955.86 406.83 L947.66 406.83"/><path d="M988.43 387.17 L994.48 387.17 L997.61 391.49 L997.61 402.51 L994.48 406.83 L988.43 406.83 L985.30 402.51 L985.30 391.49 L988.43 387.17"/><path d="M985.08 407.15 L997.83 386.85"/><path d="M929.21 359.93 L935.04 355.82 L935.04 375.48"/><path d="M959.54 355.82 L946.90 355.82 L946.90 366.08 L950.25 364.25 L955.86 363.92 L959.54 366.84 L959.54 372.35 L955.86 375.48 L947.66 375.48"/><path d="M997.94 355.82 L985.30 355.82 L985.30 366.08 L988.65 364.25 L994.26 363.92 L997.94 366.84 L997.94 372.35 L994.26 375.48 L986.06 375.48"/><path d="M929.21 328.58 L935.04 324.47 L935.04 344.13"/><path d="M954.24 324.47 L947.44 332.90 L946.90 334.52 L946.90 340.89 L950.03 344.13 L956.40 344.13 L959.54 340.89 L959.54 336.03 L956.40 332.90 L950.03 332.90 L946.90 335.60"/><path d="M988.43 324.47 L994.48 324.47 L997.61 328.79 L997.61 339.81 L994.48 344.13 L988.43 344.13 L985.30 339.81 L985.30 328.79 L988.43 324.47"/><path d="M985.08 344.45 L997.83 324.15"/><path d="M929.21 297.23 L935.04 293.12 L935.04 312.78"/><path d="M954.24 293.12 L947.44 301.55 L946.90 303.17 L946.90 309.54 L950.03 312.78 L956.40 312.78 L959.54 309.54 L959.54 304.68 L956.40 301.55 L950.03 301.55 L946.90 304.25"/><path d="M997.94 293.12 L985.30 293.12 L985.30 303.38 L988.65 301.55 L994.26 301.22 L997.94 304.14 L997.94 309.65 L994.26 312.78 L986.06 312.78"/><path d="M929.21 265.88 L935.04 261.77 L935.04 281.43"/><path d="M946.90 261.77 L959.54 261.77 L950.79 281.43"/><path d="M988.43 261.77 L994.48 261.77 L997.61 266.09 L997.61 277.11 L994.48 281.43 L988.43 281.43 L985.30 277.11 L985.30 266.09 L988.43 261.77"/><path d="M985.08 281.75 L997.83 261.45"/><path d="M929.21 234.53 L935.04 230.42 L935.04 250.08"/><path d="M946.90 230.42 L959.54 230.42 L950.79 250.08"/><path d="M997.94 230.42 L985.30 230.42 L985.30 240.68 L988.65 238.85 L994.26 238.52 L997.94 241.44 L997.94 246.95 L994.26 250.08 L986.06 250.08"/></g>
</svg>
</body></html>
